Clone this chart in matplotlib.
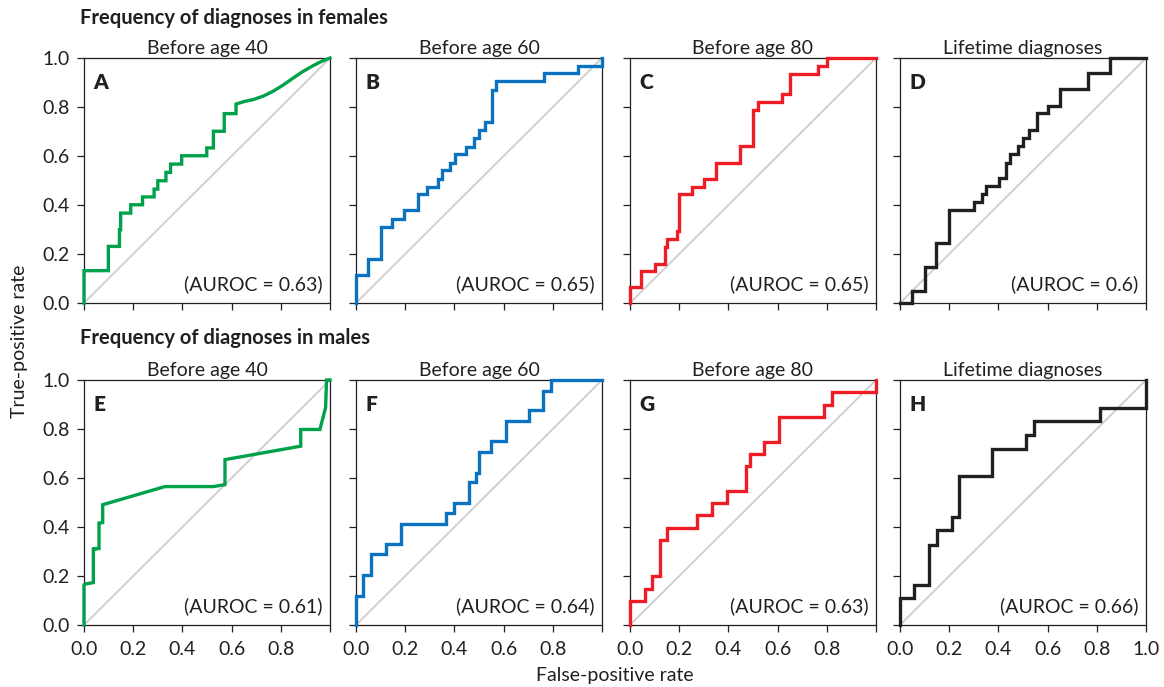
import matplotlib
matplotlib.use("Agg")
import matplotlib.pyplot as plt

plt.rcParams['font.family'] = ['Lato', 'DejaVu Sans']

# ---- data: ROC curve vertices (FPR, TPR) ----
a_x = [0, 0, 0.099, 0.099, 0.144, 0.144, 0.149, 0.149, 0.19, 0.19, 0.238, 0.238, 0.285, 0.285, 0.30, 0.30,
       0.333, 0.333, 0.352, 0.352, 0.397, 0.397, 0.499, 0.499, 0.526, 0.526, 0.570, 0.570, 0.618, 0.618,
       0.65, 0.69, 0.73, 0.77, 0.81, 0.85, 0.89, 0.93, 0.965, 1.0]
a_y = [0, 0.132, 0.132, 0.231, 0.231, 0.299, 0.299, 0.367, 0.367, 0.401, 0.401, 0.433, 0.433, 0.465, 0.465, 0.499,
       0.499, 0.533, 0.533, 0.567, 0.567, 0.601, 0.601, 0.633, 0.633, 0.701, 0.701, 0.773, 0.773, 0.812,
       0.822, 0.831, 0.845, 0.865, 0.89, 0.918, 0.945, 0.968, 0.986, 1.0]

b_x = [0, 0, 0.05, 0.05, 0.10, 0.10, 0.145, 0.145, 0.195, 0.195, 0.25, 0.25, 0.29, 0.29, 0.334, 0.334,
       0.35, 0.35, 0.384, 0.384, 0.402, 0.402, 0.449, 0.449, 0.479, 0.479, 0.50, 0.50, 0.524, 0.524,
       0.553, 0.553, 0.571, 0.571, 0.763, 0.763, 0.903, 0.903, 1.0, 1.0]
b_y = [0, 0.113, 0.113, 0.18, 0.18, 0.311, 0.311, 0.344, 0.344, 0.378, 0.378, 0.443, 0.443, 0.475, 0.475, 0.507,
       0.507, 0.542, 0.542, 0.573, 0.573, 0.607, 0.607, 0.638, 0.638, 0.673, 0.673, 0.705, 0.705, 0.737,
       0.737, 0.870, 0.870, 0.905, 0.905, 0.937, 0.937, 0.969, 0.969, 1.0]

c_x = [0, 0, 0.046, 0.046, 0.10, 0.10, 0.142, 0.142, 0.149, 0.149, 0.19, 0.19, 0.20, 0.20, 0.251, 0.251,
       0.301, 0.301, 0.349, 0.349, 0.448, 0.448, 0.50, 0.50, 0.522, 0.522, 0.616, 0.616, 0.65, 0.65,
       0.763, 0.763, 0.80, 0.80, 1.0]
c_y = [0, 0.064, 0.064, 0.13, 0.13, 0.161, 0.161, 0.229, 0.229, 0.263, 0.263, 0.293, 0.293, 0.443, 0.443, 0.475,
       0.475, 0.507, 0.507, 0.573, 0.573, 0.641, 0.641, 0.787, 0.787, 0.819, 0.819, 0.853, 0.853, 0.935,
       0.935, 0.969, 0.969, 1.0, 1.0]

d_x = [0, 0.05, 0.05, 0.10, 0.10, 0.148, 0.148, 0.199, 0.199, 0.30, 0.30, 0.334, 0.334, 0.35, 0.35, 0.402,
       0.402, 0.429, 0.429, 0.449, 0.449, 0.479, 0.479, 0.50, 0.50, 0.526, 0.526, 0.555, 0.555, 0.602,
       0.602, 0.652, 0.652, 0.763, 0.763, 0.852, 0.852, 1.0]
d_y = [0, 0, 0.048, 0.048, 0.147, 0.147, 0.246, 0.246, 0.378, 0.378, 0.412, 0.412, 0.443, 0.443, 0.477, 0.477,
       0.509, 0.509, 0.573, 0.573, 0.607, 0.607, 0.641, 0.641, 0.673, 0.673, 0.707, 0.707, 0.774, 0.774,
       0.805, 0.805, 0.873, 0.873, 0.937, 0.937, 1.0, 1.0]

e_x = [0, 0, 0.008, 0.038, 0.038, 0.045, 0.045, 0.061, 0.061, 0.076, 0.076, 0.329, 0.526, 0.573, 0.573,
       0.881, 0.881, 0.959, 0.982, 0.986, 1.0]
e_y = [0, 0.164, 0.168, 0.173, 0.31, 0.31, 0.312, 0.312, 0.416, 0.418, 0.491, 0.565, 0.565, 0.573, 0.675,
       0.730, 0.798, 0.798, 0.887, 1.0, 1.0]

f_x = [0, 0, 0.03, 0.03, 0.061, 0.061, 0.122, 0.122, 0.183, 0.183, 0.366, 0.366, 0.398, 0.398, 0.459, 0.459,
       0.486, 0.486, 0.502, 0.502, 0.55, 0.55, 0.608, 0.608, 0.703, 0.703, 0.76, 0.76, 0.791, 0.791, 1.0]
f_y = [0, 0.12, 0.12, 0.205, 0.205, 0.289, 0.289, 0.33, 0.33, 0.412, 0.412, 0.457, 0.457, 0.498, 0.498, 0.583,
       0.583, 0.621, 0.621, 0.705, 0.705, 0.75, 0.75, 0.832, 0.832, 0.876, 0.876, 0.955, 0.955, 1.0, 1.0]

g_x = [0, 0, 0.061, 0.061, 0.091, 0.091, 0.122, 0.122, 0.152, 0.152, 0.274, 0.274, 0.335, 0.335, 0.396, 0.396,
       0.471, 0.471, 0.488, 0.488, 0.545, 0.545, 0.607, 0.607, 0.79, 0.79, 0.821, 0.821, 1.0, 1.0]
g_y = [0, 0.098, 0.098, 0.147, 0.147, 0.198, 0.198, 0.348, 0.348, 0.396, 0.396, 0.447, 0.447, 0.498, 0.498, 0.546,
       0.546, 0.648, 0.648, 0.696, 0.696, 0.748, 0.748, 0.849, 0.849, 0.898, 0.898, 0.951, 0.951, 1.0]

h_x = [0, 0, 0.058, 0.058, 0.119, 0.119, 0.149, 0.149, 0.21, 0.21, 0.241, 0.241, 0.374, 0.374, 0.512, 0.512,
       0.543, 0.543, 0.814, 0.814, 1.0, 1.0]
h_y = [0, 0.109, 0.109, 0.164, 0.164, 0.327, 0.327, 0.386, 0.386, 0.441, 0.441, 0.61, 0.61, 0.72, 0.72, 0.775,
       0.775, 0.832, 0.832, 0.887, 0.887, 1.0]

curves_x = [a_x, b_x, c_x, d_x, e_x, f_x, g_x, h_x]
curves_y = [a_y, b_y, c_y, d_y, e_y, f_y, g_y, h_y]
panel_letters = ["A", "B", "C", "D", "E", "F", "G", "H"]
auroc = ["0.63", "0.65", "0.65", "0.6", "0.61", "0.64", "0.63", "0.66"]
col_titles = ["Before age 40", "Before age 60", "Before age 80", "Lifetime diagnoses"]
row_titles = ["Frequency of diagnoses in females", "Frequency of diagnoses in males"]
ticks = [0.0, 0.2, 0.4, 0.6, 0.8, 1.0]

colors = ["#00a14b", "#0b72c0", "#ee1c25", "#231f20"]
ink = "#231f20"

W, H = 1164, 687
fig = plt.figure(figsize=(W / 100, H / 100), dpi=100)

col_left = [84, 356, 630, 900]
row_top = [58, 380]
aw, ah = 246, 245

for r in range(2):
    for c in range(4):
        i = r * 4 + c
        ax = fig.add_axes([col_left[c] / W, 1 - (row_top[r] + ah) / H, aw / W, ah / H])
        ax.plot([0, 1], [0, 1], color="#cdcdcd", lw=1.3, zorder=1)
        ax.plot(curves_x[i], curves_y[i], color=colors[c], lw=2.4, zorder=3,
                solid_joinstyle="miter", clip_on=False)
        ax.set_xlim(0, 1)
        ax.set_ylim(0, 1)
        ax.set_xticks(ticks)
        ax.set_yticks(ticks)
        ax.tick_params(direction="out", length=5, width=0.9, color=ink,
                       labelsize=14, labelcolor=ink)
        ax.tick_params(axis="x", pad=6.5)
        ax.tick_params(axis="y", pad=5)
        if r == 1:
            if c == 3:
                ax.set_xticklabels([f"{t:.1f}" for t in ticks])
            else:
                ax.set_xticklabels([f"{t:.1f}" for t in ticks[:-1]] + [""])
        else:
            ax.set_xticklabels([])
        if c == 0:
            ax.set_yticklabels([f"{t:.1f}" for t in ticks])
        else:
            ax.set_yticklabels([])
        for s in ax.spines.values():
            s.set_linewidth(0.9)
            s.set_color(ink)
        ax.set_title(col_titles[c], fontsize=14, color=ink, pad=3)
        ax.text(0.037, 0.94, panel_letters[i], transform=ax.transAxes, fontsize=15,
                fontweight="heavy", va="top", ha="left", color=ink)
        ax.text(0.97, 0.04, f"(AUROC = {auroc[i]})", transform=ax.transAxes, fontsize=14,
                va="bottom", ha="right", color=ink)

fig.text(80 / W, 1 - 18 / H, row_titles[0], fontsize=14.5, fontweight="bold",
         va="center", ha="left", color=ink)
fig.text(80 / W, 1 - 338 / H, row_titles[1], fontsize=14.5, fontweight="bold",
         va="center", ha="left", color=ink)
fig.text(20 / W, 1 - 341 / H, "True-positive rate", rotation=90, fontsize=14,
         va="center", ha="center", color=ink)
fig.text(615 / W, 1 - 676 / H, "False-positive rate", fontsize=14,
         va="center", ha="center", color=ink)

fig.savefig("out.png", dpi=100, facecolor="white")
